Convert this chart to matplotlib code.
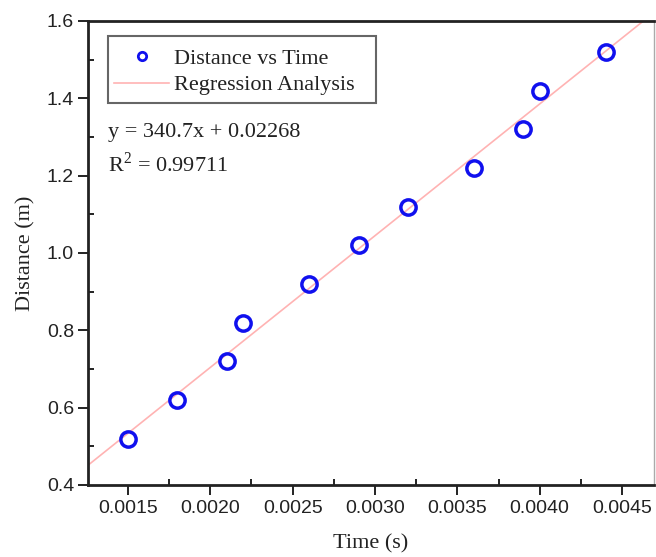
import matplotlib
matplotlib.use("Agg")
import matplotlib.pyplot as plt
import numpy as np
from matplotlib.patches import Rectangle
from matplotlib.ticker import MultipleLocator, FormatStrFormatter

# measured data
time_s = [0.0015, 0.0018, 0.0021, 0.0022, 0.0026, 0.0029, 0.0032, 0.0036, 0.0039, 0.0040, 0.0044]
distance_m = [0.52, 0.62, 0.72, 0.82, 0.92, 1.02, 1.12, 1.22, 1.32, 1.42, 1.52]

# fit results as printed on the chart
slope = 340.7
intercept = 0.02268
r_squared = 0.99711

x_lim = (0.001257, 0.004694)
y_lim = (0.4, 1.6)

serif = "Liberation Serif"
sans = "Liberation Sans"
dark = "#222222"

fig = plt.figure(figsize=(6.56, 5.57), dpi=100)
ax = fig.add_axes([0.1341, 0.1293, 0.8628, 0.833])

fit_x = np.array(x_lim)
ax.plot(fit_x, slope * fit_x + intercept, color="#ffb3b3", lw=1.2,
        label="Regression Analysis", zorder=1)
ax.plot(time_s, distance_m, "o", mfc="none", mec="#1010ee", mew=2.5, ms=11,
        label="Distance vs Time", zorder=2)

ax.set_xlim(*x_lim)
ax.set_ylim(*y_lim)

ax.xaxis.set_major_locator(MultipleLocator(0.0005))
ax.xaxis.set_minor_locator(MultipleLocator(0.00025))
ax.xaxis.set_major_formatter(FormatStrFormatter("%.4f"))
ax.yaxis.set_major_locator(MultipleLocator(0.2))
ax.yaxis.set_minor_locator(MultipleLocator(0.1))
ax.yaxis.set_major_formatter(FormatStrFormatter("%.1f"))

# major ticks point out, minor ticks point in
ax.tick_params(which="major", direction="out", length=7, width=1.4,
               labelsize=14, color=dark, labelcolor=dark)
ax.tick_params(which="minor", direction="in", length=4, width=1.4, color=dark)
ax.tick_params(axis="x", which="major", pad=4)
ax.tick_params(axis="y", which="major", pad=3)
for lbl in ax.get_xticklabels() + ax.get_yticklabels():
    lbl.set_fontfamily(sans)

for side in ["left", "bottom", "top"]:
    ax.spines[side].set_linewidth(2)
    ax.spines[side].set_color(dark)
ax.spines["right"].set_linewidth(1)
ax.spines["right"].set_color("#aaaaaa")

ax.set_xlabel("Time (s)", fontfamily=serif, fontsize=16, labelpad=12, color=dark)
ax.set_ylabel("Distance (m)", fontfamily=serif, fontsize=16, labelpad=8, color=dark)

# legend entries without frame, frame drawn as its own box
handles, labels = ax.get_legend_handles_labels()
leg = ax.legend(handles[::-1], labels[::-1], loc="upper left",
                bbox_to_anchor=(0.038, 0.95), borderaxespad=0,
                prop={"family": serif, "size": 16}, frameon=False,
                handlelength=2.5, borderpad=0.2, labelspacing=0.25,
                handletextpad=0.2)
leg.legend_handles[0].set_markersize(6)
leg.legend_handles[0].set_markeredgewidth(2)
for t in leg.get_texts():
    t.set_color(dark)
ax.add_patch(Rectangle((0.035, 0.823), 0.474, 0.145, transform=ax.transAxes,
                       fill=False, edgecolor="#666666", lw=1.5, zorder=3))

ax.text(0.035, 0.759, "y = %.1fx + %.5f" % (slope, intercept), transform=ax.transAxes,
        fontfamily=serif, fontsize=16, color=dark, va="center")
ax.text(0.035, 0.69, r"R$^\mathregular{2}$ = %.5f" % r_squared, transform=ax.transAxes,
        fontfamily=serif, fontsize=16, color=dark, va="center")

fig.savefig("out.png", dpi=100)
